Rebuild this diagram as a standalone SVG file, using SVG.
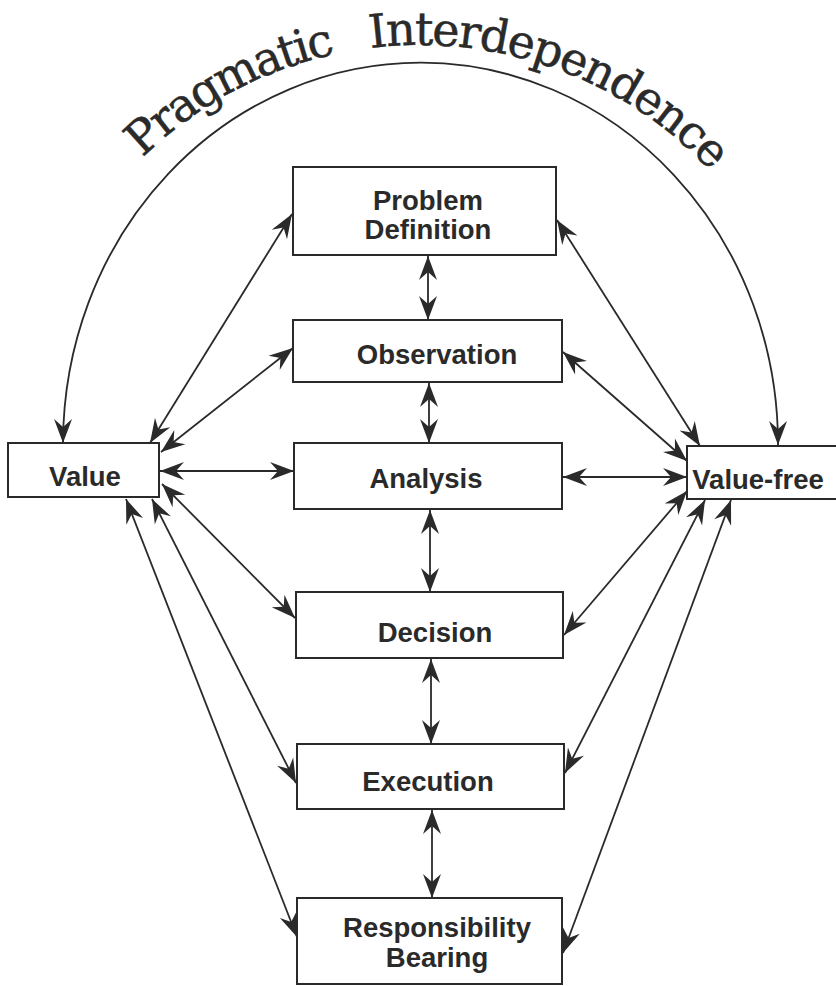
<svg xmlns="http://www.w3.org/2000/svg" xmlns:xlink="http://www.w3.org/1999/xlink" width="836" height="986" viewBox="0 0 836 986">
<style>
.box{fill:#fff;stroke:#2a2a2a;stroke-width:2}
.lbl{font-family:"Liberation Sans",Arial,sans-serif;font-weight:bold;font-size:27.5px;fill:#2a2a2a;text-anchor:middle}
.con{stroke:#2a2a2a;stroke-width:1.8;fill:none;marker-start:url(#ah);marker-end:url(#ah)}
.title{font-family:"DejaVu Serif","Liberation Serif",serif;font-size:46px;fill:#2a2a2a;stroke:#2a2a2a;stroke-width:0.5}
</style>
<defs>
<marker id="ah" viewBox="-26 -10 28 20" markerWidth="28" markerHeight="20" refX="0" refY="0" orient="auto-start-reverse" markerUnits="userSpaceOnUse">
<path d="M0,0 L-24,-9 L-16,0 L-24,9 Z" fill="#2a2a2a"/>
</marker>
<path id="titlePath" d="M 22 443 A 398 398 0 0 1 818 443"/>
</defs>
<rect width="836" height="986" fill="#fff"/>
<text class="title"><textPath xlink:href="#titlePath" startOffset="318" textLength="222" lengthAdjust="spacing">Pragmatic</textPath></text>
<text class="title"><textPath xlink:href="#titlePath" startOffset="575" textLength="376" lengthAdjust="spacing">Interdependence</textPath></text>
<g id="connectors">
<path class="con" d="M 63 443 A 357 381 0 0 1 778 445"/>
<line class="con" x1="150" y1="443" x2="292" y2="214"/>
<line class="con" x1="161" y1="452" x2="293" y2="348"/>
<line class="con" x1="160" y1="471" x2="294" y2="471"/>
<line class="con" x1="162" y1="484" x2="295" y2="618"/>
<line class="con" x1="152" y1="499" x2="296" y2="783"/>
<line class="con" x1="126" y1="499" x2="297" y2="937"/>
<line class="con" x1="557" y1="220" x2="700" y2="446"/>
<line class="con" x1="563" y1="352" x2="687" y2="461"/>
<line class="con" x1="563" y1="477" x2="687" y2="477"/>
<line class="con" x1="564" y1="635" x2="687" y2="491"/>
<line class="con" x1="565" y1="773" x2="705" y2="500"/>
<line class="con" x1="563" y1="953" x2="731" y2="500"/>
<line class="con" x1="428" y1="256" x2="428" y2="320"/>
<line class="con" x1="429" y1="383" x2="429" y2="443"/>
<line class="con" x1="430" y1="510" x2="430" y2="592"/>
<line class="con" x1="431" y1="659" x2="431" y2="744"/>
<line class="con" x1="432" y1="810" x2="432" y2="898"/>
</g>
<g id="problem-definition"><rect class="box" x="293" y="167" width="263" height="88"/><text class="lbl" x="428" y="210">Problem</text><text class="lbl" x="428" y="239">Definition</text></g>
<g id="observation"><rect class="box" x="293" y="320" width="269" height="62"/><text class="lbl" x="437" y="364">Observation</text></g>
<g id="analysis"><rect class="box" x="294" y="443" width="268" height="66"/><text class="lbl" x="426" y="488">Analysis</text></g>
<g id="decision"><rect class="box" x="296" y="592" width="267" height="66"/><text class="lbl" x="435" y="642">Decision</text></g>
<g id="execution"><rect class="box" x="297" y="744" width="267" height="65"/><text class="lbl" x="428" y="791">Execution</text></g>
<g id="responsibility-bearing"><rect class="box" x="297" y="898" width="265" height="86"/><text class="lbl" x="437" y="937">Responsibility</text><text class="lbl" x="437" y="967">Bearing</text></g>
<g id="value"><rect class="box" x="8" y="443" width="151" height="54"/><text class="lbl" x="85" y="486">Value</text></g>
<g id="value-free"><rect class="box" x="687" y="446" width="160" height="53"/><text class="lbl" x="758" y="489">Value-free</text></g>
</svg>
